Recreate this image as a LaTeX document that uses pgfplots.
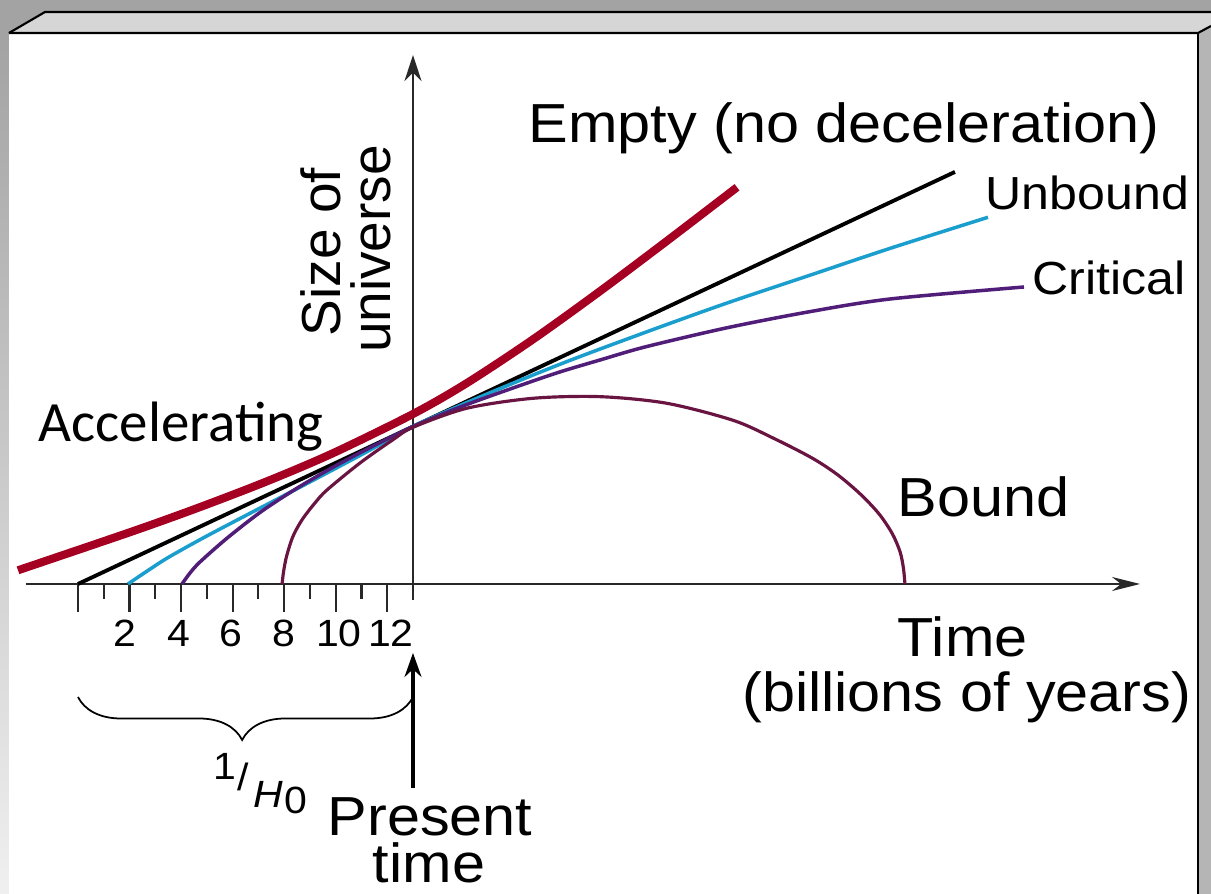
\documentclass[border=0pt]{standalone}
\usepackage{pgfplots}
\pgfplotsset{compat=1.18}
\usepackage{fontspec}
\setmainfont{Liberation Sans}
\newfontfamily\accfont{Carlito}
\usetikzlibrary{arrows.meta,decorations.pathreplacing}

\definecolor{accred}{RGB}{165,0,33}
\definecolor{unbcyan}{RGB}{25,158,205}
\definecolor{critpurple}{RGB}{80,30,120}
\definecolor{boundc}{RGB}{105,20,65}
\definecolor{axisc}{RGB}{40,40,40}
\definecolor{bggray}{RGB}{163,163,163}
\definecolor{topface}{RGB}{214,214,214}
\definecolor{sideface}{RGB}{181,181,181}

\newcommand\fbig{\fontsize{15.65pt}{18pt}\selectfont}
\newcommand\fmid{\fontsize{13.2pt}{15pt}\selectfont}
\newcommand\fsmall{\fontsize{10.8pt}{12pt}\selectfont}

% one image pixel = 0.1mm, pixel (78,584) = data origin
\tikzset{pixel/.style={x=0.1mm,y=-0.1mm,xshift=-7.8mm,yshift=58.4mm},
  lab/.style={inner sep=0pt,xscale=1.08}}

\begin{document}
\begin{tikzpicture}
\begin{scope}[pixel]
  % frame
  \fill[bggray] (0,0) rectangle (1211,894);
  \shade[top color=bggray, bottom color=gray!12] (0,34) rectangle (10,894);
  \fill[white] (9,33) rectangle (1198,894);
  \fill[topface] (9,33) -- (45,12) -- (1211,12) -- (1211,26) -- (1198,33) -- cycle;
  \fill[sideface] (1198,33) -- (1211,26) -- (1211,894) -- (1198,894) -- cycle;
  \draw[line width=0.6pt] (9,33) -- (45,12) -- (1211,12);
  \draw[line width=0.6pt] (9,33) -- (1198,33) -- (1211,26);
  \draw[line width=0.5pt] (1198,33) -- (1198,894);
  % axes
  \draw[axisc, line width=0.6pt, -{Stealth[length=2.8mm,width=1.4mm]}] (26,584) -- (1140,584);
  \draw[axisc, line width=0.6pt, -{Stealth[length=2.6mm,width=1.7mm]}] (413,600) -- (413,55);
  \foreach \i in {0,2,...,12} \draw[axisc, line width=0.6pt] ({78+25.77*\i},584) -- ++(0,28);
  \foreach \i in {1,3,...,11} \draw[axisc, line width=0.6pt] ({78+25.77*\i},584) -- ++(0,15);
\end{scope}

\begin{axis}[at={(0,0)}, anchor=origin, x=2.577mm, y=2.577mm,
  xmin=-3.027, xmax=43.966, ymin=-12.03, ymax=22.662,
  hide axis, clip=false]
% Empty (no deceleration)
\addplot[black, line width=1.1pt] coordinates {(0,0) (34.03,15.99)};
% Unbound
\addplot[unbcyan, line width=1.0pt, smooth] coordinates {
  (1.940,0) (2.600,0.446) (3.454,1.001) (4.734,1.719) (6.015,2.398)
  (8.615,3.756) (11.215,5.134) (13.000,6.112) (15.677,7.291) (18.820,8.572)
  (22.002,9.760) (25.146,10.889) (28.328,11.956) (31.510,13.023) (35.312,14.230)};
% Critical
\addplot[critpurple, line width=1.0pt, smooth] coordinates {
  (4.036,0) (4.346,0.427) (4.734,0.854) (5.782,1.777) (7.063,2.775)
  (8.343,3.621) (9.662,4.400) (10.943,5.091) (12.224,5.739) (13.000,6.112)
  (14.435,6.713) (15.677,7.179) (17.656,7.877) (18.820,8.266) (20.256,8.692)
  (22.002,9.197) (25.146,9.934) (28.328,10.555) (31.510,11.059) (36.709,11.525)};
% Bound
\addplot[boundc, line width=0.9pt, smooth] coordinates {
  (7.920,0) (7.980,0.500) (8.100,1.100) (8.343,1.850) (8.700,2.500)
  (9.200,3.150) (9.662,3.648) (10.943,4.695) (12.224,5.600) (13.000,6.080)
  (15.083,6.818) (17.656,7.206) (20.256,7.269) (22.844,7.013) (25.417,6.353)
  (27.000,5.650) (28.500,4.880) (29.500,4.220) (30.400,3.450) (31.100,2.700)
  (31.600,1.950) (31.900,1.250) (32.030,0.620) (32.090,0)};
% Accelerating
\addplot[accred, line width=2.3pt, smooth] coordinates {
  (-2.328,0.532) (2.134,2.049) (4.734,2.984) (7.334,3.985) (9.895,5.076)
  (13.000,6.597) (15.095,7.800) (17.656,9.492) (20.256,11.362) (22.856,13.314)
  (25.573,15.394)};
\end{axis}

\begin{scope}[pixel]
  % present time arrow and 1/H0 brace
  \draw[line width=0.9pt, -{Stealth[length=2.4mm,width=1.7mm]}] (413,788) -- (413,653);
  \draw[line width=0.5pt, decorate, decoration={brace, amplitude=4.3mm, aspect=0.51}] (413,697) -- (78,697);
  % tick labels
  \foreach \x/\t in {125/2,179/4,231/6,284/8,339/10,391/12}
    \node[lab, font=\fsmall, anchor=base] at (\x,647) {\t};
  \node[lab, font=\fsmall, anchor=base] at (225,780) {1};
  \node[lab, font=\fsmall, anchor=base] at (243,790) {/};
  \node[lab, font=\fsmall\itshape, anchor=base west] at (253,807) {H};
  \node[lab, font=\fsmall, anchor=base west] at (284,813) {0};
  % labels
  \node[lab, font=\fbig, anchor=base west] at (528,143) {Empty (no deceleration)};
  \node[lab, font=\fmid, anchor=base west] at (985,210) {Unbound};
  \node[lab, font=\fmid, anchor=base west] at (1032,295) {Critical};
  \node[lab, font=\fbig, anchor=base west] at (897,517) {Bound};
  \node[lab, font=\fbig, anchor=base west] at (897,657) {Time};
  \node[lab, font=\fbig, anchor=base east] at (1192,712) {(billions of years)};
  \node[lab, font=\fbig, anchor=base] at (430,835) {Present};
  \node[lab, font=\fbig, anchor=base] at (429,882) {time};
  \node[inner sep=0pt, font=\fbig, rotate=90, anchor=base] at (340,252) {Size of};
  \node[inner sep=0pt, font=\fbig, rotate=90, anchor=base] at (390,249) {universe};
  \node[inner sep=0pt, font=\accfont\fontsize{16.2pt}{19pt}\selectfont, anchor=base west] at (38,442) {Accelerating};
\end{scope}

\pgfresetboundingbox
\begin{scope}[pixel]
  \useasboundingbox (0,0) rectangle (1211,894);
\end{scope}
\end{tikzpicture}
\end{document}
